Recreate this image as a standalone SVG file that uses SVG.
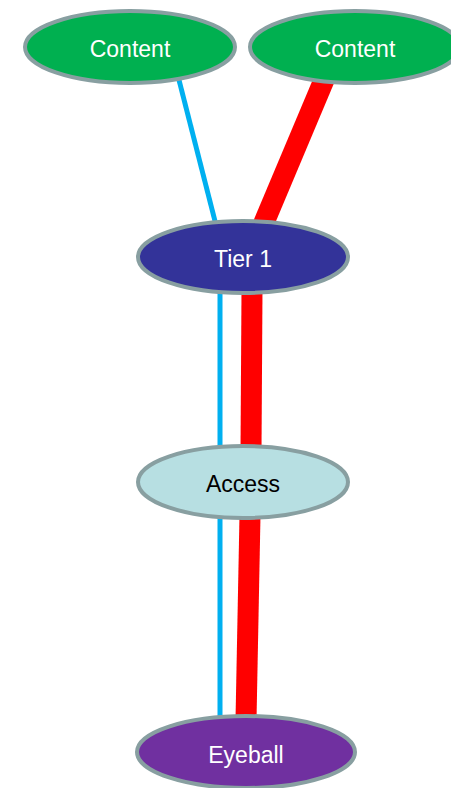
<svg xmlns="http://www.w3.org/2000/svg" width="451" height="788" viewBox="0 0 451 788">
<style>
.node ellipse{stroke:#889fa1;stroke-width:4}
.node text{font-family:"Liberation Sans",Arial,sans-serif;font-size:23px;text-anchor:middle;fill:#ffffff}
.blue{stroke:#00b0f0;stroke-width:5;fill:none}
.red{stroke:#ff0000;stroke-width:21;fill:none}
</style>
<rect width="451" height="788" fill="#ffffff"/>
<g id="connectors">
<line class="blue" x1="179" y1="80" x2="216" y2="225"/>
<line class="red" x1="324" y1="80" x2="263" y2="225"/>
<line class="blue" x1="220" y1="290" x2="220" y2="450"/>
<line class="red" x1="252" y1="290" x2="251" y2="450"/>
<line class="blue" x1="220" y1="515" x2="220" y2="720"/>
<line class="red" x1="250" y1="515" x2="246" y2="720"/>
</g>
<g id="content1" class="node">
<ellipse cx="130" cy="47" rx="105" ry="36" fill="#00b050"/>
<text x="130" y="57">Content</text>
</g>
<g id="content2" class="node">
<ellipse cx="355" cy="47" rx="105" ry="36" fill="#00b050"/>
<text x="355" y="57">Content</text>
</g>
<g id="tier1" class="node">
<ellipse cx="243" cy="257" rx="105" ry="36" fill="#333399"/>
<text x="243" y="267">Tier 1</text>
</g>
<g id="access" class="node">
<ellipse cx="243" cy="482" rx="105" ry="36" fill="#b7dfe2"/>
<text x="243" y="492" style="fill:#000000">Access</text>
</g>
<g id="eyeball" class="node">
<ellipse cx="246" cy="752" rx="109" ry="36" fill="#7030a0"/>
<text x="246" y="763">Eyeball</text>
</g>
</svg>
